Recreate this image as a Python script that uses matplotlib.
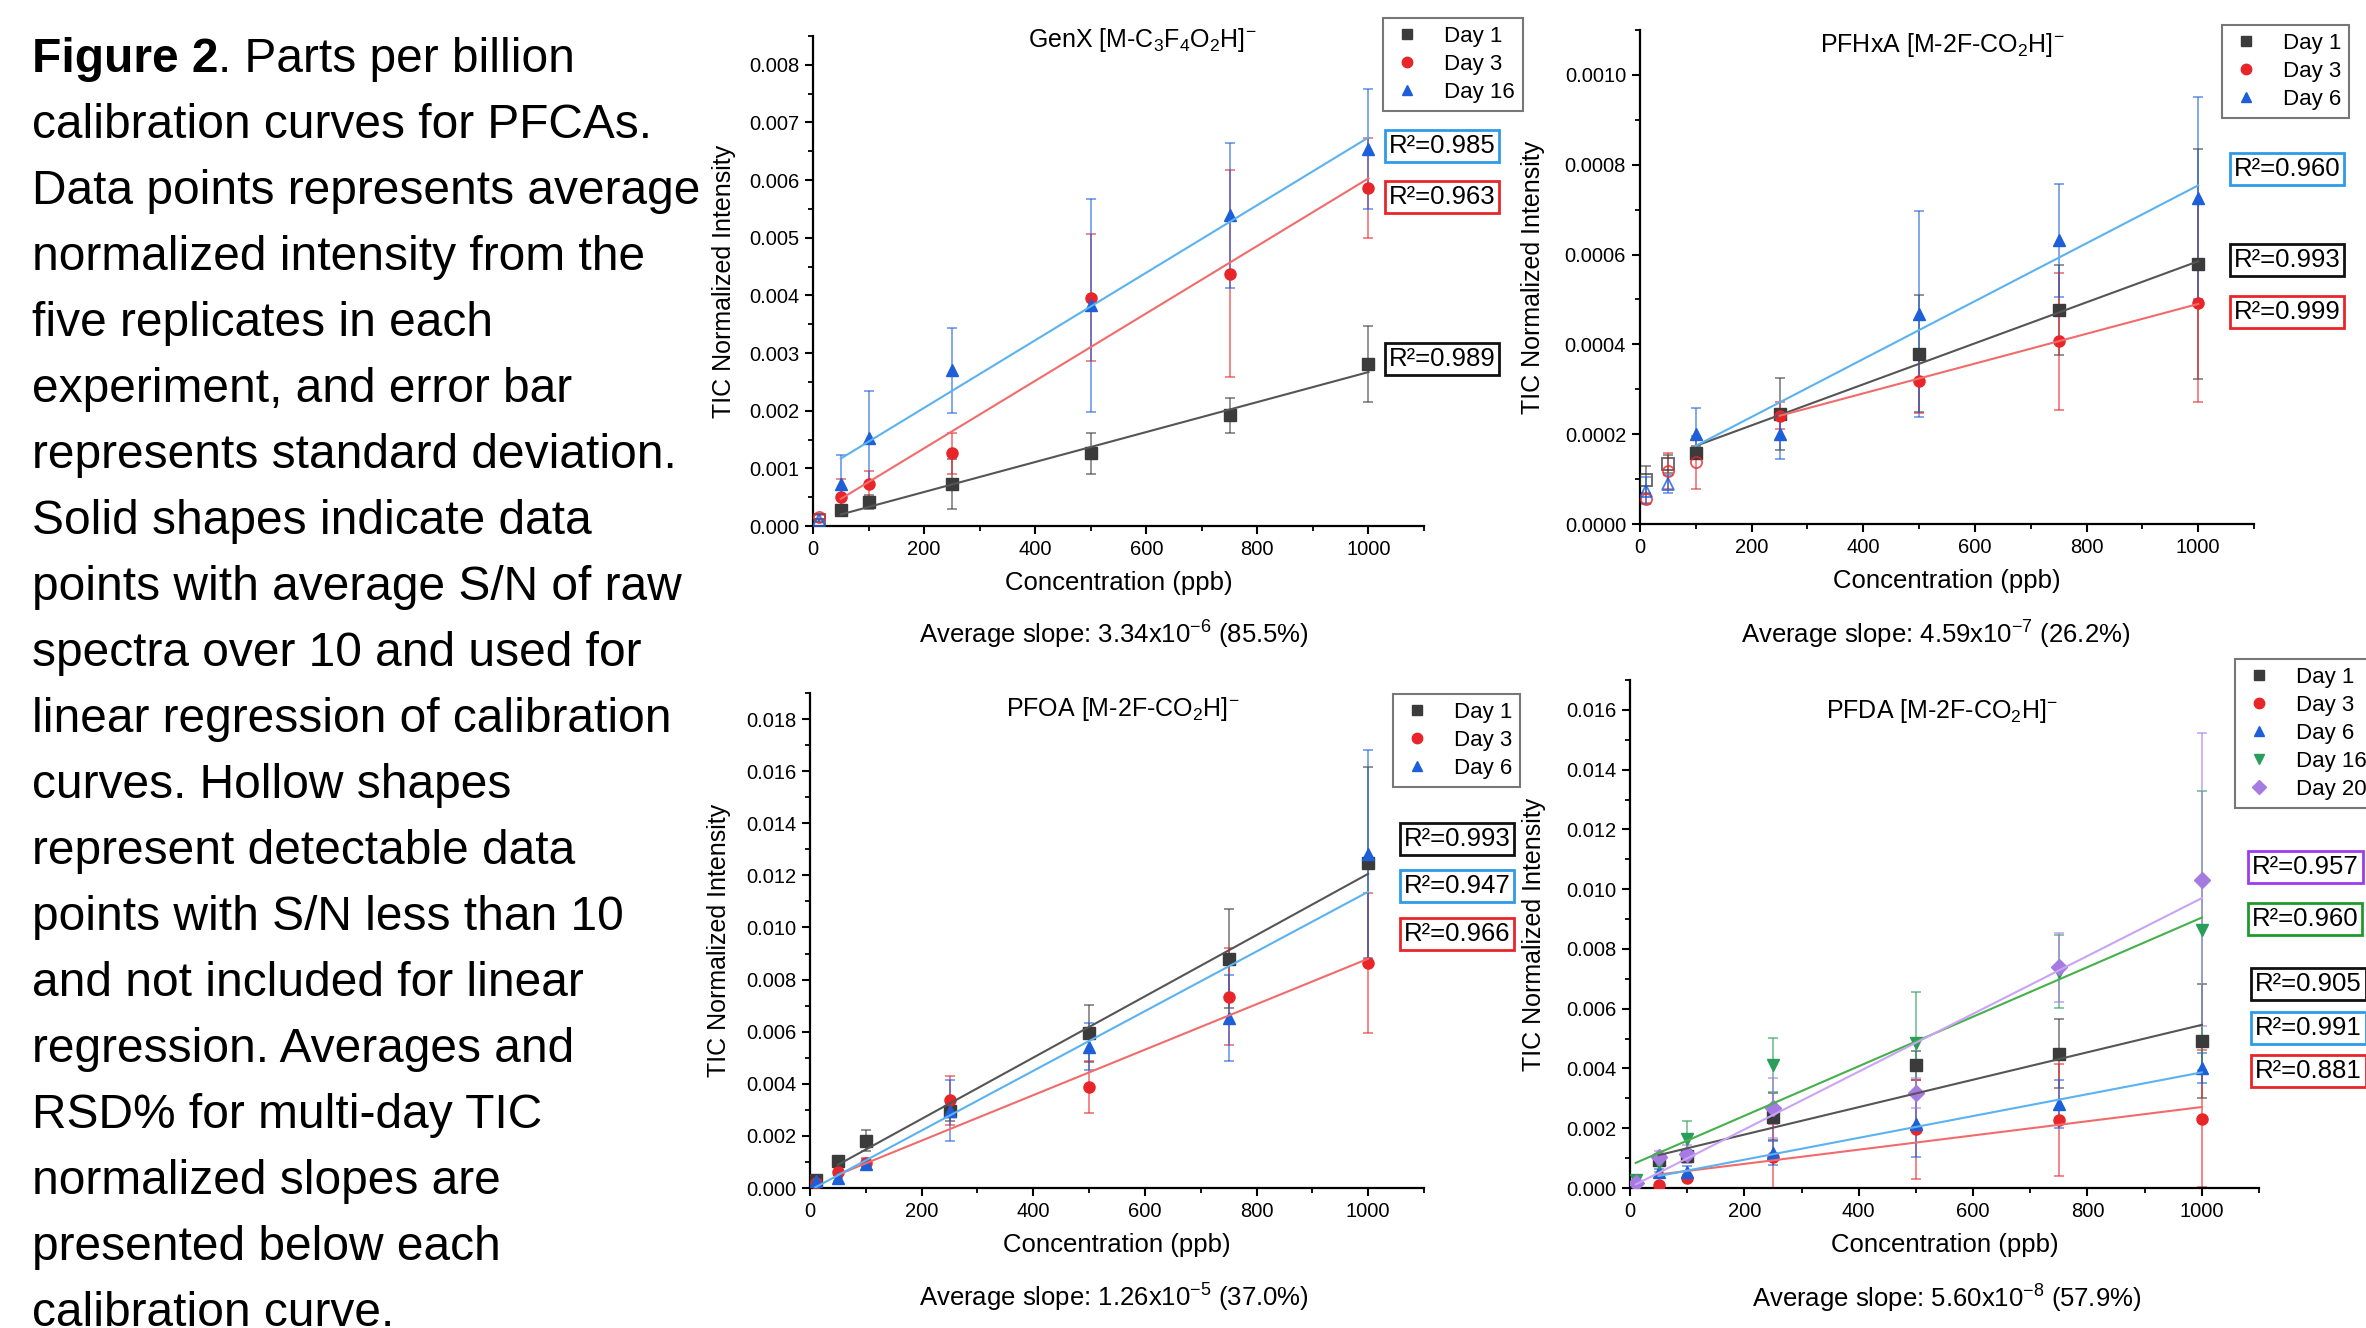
import matplotlib
matplotlib.use('Agg')
import matplotlib.pyplot as plt
from matplotlib.lines import Line2D
from matplotlib.ticker import MultipleLocator, FormatStrFormatter

plt.rcParams['font.family'] = ['Liberation Sans', 'DejaVu Sans']
plt.rcParams['mathtext.fontset'] = 'custom'
plt.rcParams['mathtext.rm'] = 'Liberation Sans'
plt.rcParams['mathtext.bf'] = 'Liberation Sans:bold'
plt.rcParams['mathtext.it'] = 'Liberation Sans:italic'
plt.rcParams['mathtext.default'] = 'regular'

# ---------------- data ----------------
conc = [10, 50, 100, 250, 500, 750, 1000]
conc_50 = [50, 100, 250, 500, 750, 1000]

# GenX
genx_d1 = [0.00010, 0.00027, 0.00042, 0.00073, 0.00126, 0.00192, 0.00281]
genx_d1_sd = [0.00003, 0.00010, 0.00012, 0.00044, 0.00035, 0.00030, 0.00066]
genx_d3 = [0.00016, 0.00051, 0.00073, 0.00126, 0.00396, 0.00438, 0.00586]
genx_d3_sd = [0.00003, 0.00030, 0.00022, 0.00035, 0.00110, 0.00180, 0.00087]
genx_d16 = [0.00010, 0.00073, 0.00152, 0.00270, 0.00383, 0.00539, 0.00654]
genx_d16_sd = [0.00002, 0.00050, 0.00083, 0.00074, 0.00185, 0.00126, 0.00104]
genx_fit = {'d1': (50, 0.00020, 0.00267), 'd3': (50, 0.00047, 0.00603), 'd16': (50, 0.00117, 0.00674)}

# PFHxA
pfhxa_d1 = [0.0000985, 0.000134, 0.000159, 0.000245, 0.000379, 0.000476, 0.000578]
pfhxa_d1_sd = [0.00003, 0.00002, 0.000015, 0.00008, 0.00013, 0.00010, 0.000256]
pfhxa_d3 = [0.000056, 0.000119, 0.000137, 0.000241, 0.000318, 0.000407, 0.000492]
pfhxa_d3_sd = [0.00001, 0.00004, 0.00006, 0.00003, 0.00007, 0.000153, 0.00022]
pfhxa_d6 = [0.000074, 0.000090, 0.0002015, 0.000200, 0.000468, 0.000632, 0.000726]
pfhxa_d6_sd = [0.00003, 0.00002, 0.000056, 0.000056, 0.00023, 0.000126, 0.000224]
pfhxa_fit = {'d1': (100, 0.000174, 0.000585), 'd3': (250, 0.000241, 0.000490), 'd6': (100, 0.000174, 0.000754)}

# PFOA
pfoa_d1 = [0.00030, 0.00102, 0.00182, 0.00296, 0.00594, 0.00880, 0.01247]
pfoa_d1_sd = [0.0001, 0.0002, 0.0004, 0.0004, 0.0011, 0.0019, 0.0037]
pfoa_d3 = [0.00020, 0.00060, 0.00095, 0.00336, 0.00389, 0.00735, 0.00864]
pfoa_d3_sd = [0.0001, 0.0002, 0.0002, 0.00095, 0.0010, 0.00185, 0.0027]
pfoa_d6 = [0.00025, 0.00038, 0.00093, 0.00297, 0.00542, 0.00651, 0.01282]
pfoa_d6_sd = [0.0001, 0.0001, 0.0002, 0.00116, 0.0009, 0.00165, 0.0040]
pfoa_fit = {'d1': (50, 0.00089, 0.01206), 'd3': (50, 0.00051, 0.00880), 'd6': (10, 0.00003, 0.01137)}

# PFDA
pfda_d1 = [0.00095, 0.00108, 0.00239, 0.00410, 0.00449, 0.00492]
pfda_d1_sd = [0.0002, 0.0002, 0.0008, 0.0005, 0.00116, 0.0019]
pfda_d3 = [0.00010, 0.00034, 0.00105, 0.00196, 0.00227, 0.00232]
pfda_d3_sd = [0.00005, 0.0001, 0.0011, 0.00167, 0.00187, 0.0023]
pfda_d6 = [0.00055, 0.00055, 0.00117, 0.00214, 0.00280, 0.00403]
pfda_d6_sd = [0.0001, 0.0002, 0.0004, 0.0011, 0.0008, 0.0005]
pfda_d16 = [0.00027, 0.00083, 0.00164, 0.00412, 0.00485, 0.00724, 0.00862]
pfda_d16_sd = [0.0001, 0.0003, 0.0006, 0.0009, 0.0017, 0.00123, 0.00466]
pfda_d20 = [0.00017, 0.00105, 0.00114, 0.00268, 0.00319, 0.00739, 0.01032]
pfda_d20_sd = [0.0001, 0.0002, 0.0003, 0.0010, 0.0005, 0.00116, 0.0049]
pfda_fit = {'d1': (50, 0.00110, 0.00546), 'd3': (50, 0.00045, 0.00271), 'd6': (50, 0.00040, 0.00387),
            'd16': (10, 0.00084, 0.00905), 'd20': (10, 0.00012, 0.00970)}

caption = ["Figure 2", "calibration curves for PFCAs.", "Data points represents average",
           "normalized intensity from the", "five replicates in each", "experiment, and error bar",
           "represents standard deviation.", "Solid shapes indicate data", "points with average S/N of raw",
           "spectra over 10 and used for", "linear regression of calibration", "curves. Hollow shapes",
           "represent detectable data", "points with S/N less than 10", "and not included for linear",
           "regression. Averages and", "RSD% for multi-day TIC", "normalized slopes are",
           "presented below each", "calibration curve."]

# style per day: marker colour, fit line colour, marker
style = {
    'd1': ('#3b3b3b', '#555555', 's'),
    'd3': ('#e8262a', '#f26b6b', 'o'),
    'd6': ('#1c5fd8', '#5ab2f0', '^'),
    'd16': ('#1c5fd8', '#5ab2f0', '^'),
    'd16g': ('#2a9d5a', '#46b04a', 'v'),
    'd20': ('#a57be2', '#c9a3f5', 'D'),
}

W, H = 2366, 1328
fig = plt.figure(figsize=(W / 100, H / 100), dpi=100)


def fx(px):
    return px / W


def fy(py):
    return 1 - py / H


def make_ax(left, top, right, bottom, ytop, ystep, fmt, ypad):
    ax = fig.add_axes([fx(left), fy(bottom), (right - left) / W, (bottom - top) / H])
    ax.set_xlim(0, 1100)
    ax.set_ylim(0, ytop)
    for s in ['top', 'right']:
        ax.spines[s].set_visible(False)
    for s in ['left', 'bottom']:
        ax.spines[s].set_linewidth(1.6)
    ax.xaxis.set_major_locator(MultipleLocator(200))
    ax.xaxis.set_minor_locator(MultipleLocator(100))
    ax.yaxis.set_major_locator(MultipleLocator(ystep))
    ax.yaxis.set_minor_locator(MultipleLocator(ystep / 2))
    ax.yaxis.set_major_formatter(FormatStrFormatter(fmt))
    ax.tick_params(which='major', direction='out', length=6, width=1.5, labelsize=14.5, pad=4)
    ax.tick_params(which='minor', direction='out', length=3.5, width=1.3)
    ax.set_xlabel('Concentration (ppb)', fontsize=18.5, labelpad=9)
    ax.set_ylabel('TIC Normalized Intensity', fontsize=18, labelpad=ypad)
    return ax


def series(ax, x, y, sd, n_hollow, key, fit):
    color, fitcolor, marker = style[key]
    ax.errorbar(x, y, yerr=sd, fmt='none', ecolor=color, alpha=0.55, elinewidth=1.4,
                capsize=3.5, capthick=1.4, zorder=2)
    ax.plot(x[:n_hollow], y[:n_hollow], ls='none', marker=marker, ms=8, mfc='none',
            mec=color, mew=1.3, alpha=0.8, zorder=3)
    ax.plot(x[n_hollow:], y[n_hollow:], ls='none', marker=marker, ms=8, color=color, zorder=3)
    x0, y0, y1 = fit
    ax.plot([x0, 1000], [y0, y1], color=fitcolor, lw=1.5, zorder=4)


def legend(ax, keys, labels, left, top):
    hs = [Line2D([0], [0], marker=style[k][2], ls='none', color=style[k][0], ms=7.5) for k in keys]
    lg = ax.legend(hs, labels, loc='upper left', bbox_to_anchor=(fx(left), fy(top)),
                   bbox_transform=fig.transFigure, frameon=True, fancybox=False, fontsize=16,
                   borderpad=0.35, labelspacing=0.32, handletextpad=0.9, handlelength=1.5,
                   borderaxespad=0)
    lg.get_frame().set_edgecolor('#555555')
    lg.get_frame().set_linewidth(1.5)


def r2(x, y, txt, color, ha='center'):
    fig.text(fx(x), fy(y), txt, fontsize=18.5, ha=ha, va='center',
             bbox=dict(boxstyle='square,pad=0.15', fc='white', ec=color, lw=2))


def title(x, y, txt):
    fig.text(fx(x), fy(y), txt, fontsize=18, ha='center', va='center')


# ---------------- GenX ----------------
ax1 = make_ax(813, 36, 1424, 526, 0.0085, 0.001, '%.3f', 9)
series(ax1, conc, genx_d1, genx_d1_sd, 1, 'd1', genx_fit['d1'])
series(ax1, conc, genx_d3, genx_d3_sd, 1, 'd3', genx_fit['d3'])
series(ax1, conc, genx_d16, genx_d16_sd, 1, 'd16', genx_fit['d16'])
legend(ax1, ['d1', 'd3', 'd16'], ['Day 1', 'Day 3', 'Day 16'], 1383, 18)
title(1142, 40, r'GenX [M-C$_3$F$_4$O$_2$H]$^{-}$')
r2(1442, 146, 'R²=0.985', '#2f9be8')
r2(1442, 197, 'R²=0.963', '#e8262a')
r2(1442, 359, 'R²=0.989', '#111111')
fig.text(fx(1114), fy(635), r'Average slope: 3.34x10$^{-6}$ (85.5%)', fontsize=18.5, ha='center', va='center')

# ---------------- PFHxA ----------------
ax2 = make_ax(1640, 30, 2254, 524, 0.0011, 0.0002, '%.4f', 14)
series(ax2, conc, pfhxa_d1, pfhxa_d1_sd, 2, 'd1', pfhxa_fit['d1'])
series(ax2, conc, pfhxa_d3, pfhxa_d3_sd, 3, 'd3', pfhxa_fit['d3'])
series(ax2, conc, pfhxa_d6, pfhxa_d6_sd, 2, 'd6', pfhxa_fit['d6'])
legend(ax2, ['d1', 'd3', 'd6'], ['Day 1', 'Day 3', 'Day 6'], 2222, 25)
title(1942, 45, r'PFHxA [M-2F-CO$_2$H]$^{-}$')
r2(2287, 169, 'R²=0.960', '#2f9be8')
r2(2287, 260, 'R²=0.993', '#111111')
r2(2287, 312, 'R²=0.999', '#e8262a')
fig.text(fx(1936), fy(635), r'Average slope: 4.59x10$^{-7}$ (26.2%)', fontsize=18.5, ha='center', va='center')

# ---------------- PFOA ----------------
ax3 = make_ax(810, 693, 1424, 1188, 0.019, 0.002, '%.3f', 11)
series(ax3, conc, pfoa_d1, pfoa_d1_sd, 0, 'd1', pfoa_fit['d1'])
series(ax3, conc, pfoa_d3, pfoa_d3_sd, 0, 'd3', pfoa_fit['d3'])
series(ax3, conc, pfoa_d6, pfoa_d6_sd, 0, 'd6', pfoa_fit['d6'])
legend(ax3, ['d1', 'd3', 'd6'], ['Day 1', 'Day 3', 'Day 6'], 1393, 694)
title(1123, 709, r'PFOA [M-2F-CO$_2$H]$^{-}$')
r2(1457, 839, 'R²=0.993', '#111111')
r2(1457, 886, 'R²=0.947', '#2f9be8')
r2(1457, 934, 'R²=0.966', '#e8262a')
fig.text(fx(1114), fy(1298), r'Average slope: 1.26x10$^{-5}$ (37.0%)', fontsize=18.5, ha='center', va='center')

# ---------------- PFDA ----------------
ax4 = make_ax(1630, 680, 2259, 1188, 0.017, 0.002, '%.3f', 14)
series(ax4, conc_50, pfda_d1, pfda_d1_sd, 0, 'd1', pfda_fit['d1'])
series(ax4, conc_50, pfda_d3, pfda_d3_sd, 0, 'd3', pfda_fit['d3'])
series(ax4, conc_50, pfda_d6, pfda_d6_sd, 0, 'd6', pfda_fit['d6'])
series(ax4, conc, pfda_d16, pfda_d16_sd, 0, 'd16g', pfda_fit['d16'])
series(ax4, conc, pfda_d20, pfda_d20_sd, 0, 'd20', pfda_fit['d20'])
legend(ax4, ['d1', 'd3', 'd6', 'd16g', 'd20'], ['Day 1', 'Day 3', 'Day 6', 'Day 16', 'Day 20'], 2235, 659)
title(1942, 711, r'PFDA [M-2F-CO$_2$H]$^{-}$')
r2(2252, 867, 'R²=0.957', '#9b3cf0', ha='left')
r2(2252, 919, 'R²=0.960', '#1f9a2a', ha='left')
r2(2255, 984, 'R²=0.905', '#111111', ha='left')
r2(2255, 1028, 'R²=0.991', '#2f9be8', ha='left')
r2(2255, 1071, 'R²=0.881', '#e8262a', ha='left')
fig.text(fx(1947), fy(1299), r'Average slope: 5.60x10$^{-8}$ (57.9%)', fontsize=18.5, ha='center', va='center')

# ---------------- caption ----------------
cap_size = 34.5
for i, line in enumerate(caption):
    yb = 72 + i * 66
    if i == 0:
        t = fig.text(fx(32), fy(yb), line, fontsize=cap_size, fontweight='bold', va='baseline')
        fig.canvas.draw()
        bb = t.get_window_extent()
        fig.text(bb.x1 / W, fy(yb), '. Parts per billion', fontsize=cap_size, va='baseline')
    else:
        fig.text(fx(32), fy(yb), line, fontsize=cap_size, va='baseline')

fig.savefig('out.png', dpi=100)
